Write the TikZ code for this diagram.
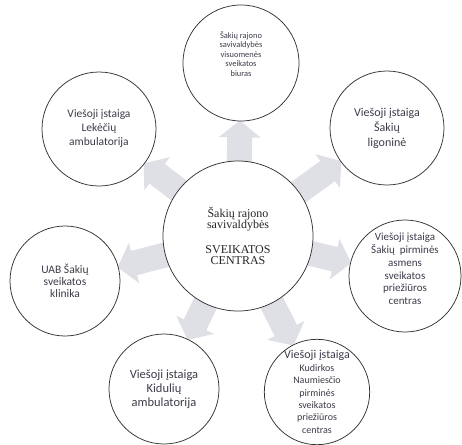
\documentclass[tikz,border=0pt]{standalone}
\usepackage{fontspec}
\setmainfont{Carlito}
\newfontfamily\serifc{Liberation Serif}
\usetikzlibrary{arrows.meta,backgrounds}
\definecolor{arrowgray}{HTML}{DFE0E6}
\definecolor{txtgray}{HTML}{3C3C4A}
\definecolor{linegray}{HTML}{333333}
\tikzset{
  orb/.style={circle, draw=linegray, line width=0.75pt, fill=white, align=center, inner sep=0pt, text=txtgray},
  orbtext/.style={align=center, inner sep=0pt, text=txtgray},
  bigarrow/.style={draw=arrowgray, line width=25pt, shorten <=-6pt, shorten >=-1pt,
    -{Triangle[width=41pt,length=17pt]}},
}
\begin{document}
\begin{tikzpicture}[x=1pt,y=-1pt]
\useasboundingbox (0,0) rectangle (462,444);
\node[orb, minimum size=150pt, text=black!85, font={\serifc\fontsize{12}{11.5}\selectfont}] (c) at (238,236)
  {Šakių rajono\\ savivaldybės\\[13pt] SVEIKATOS\\ CENTRAS};
\node[orb, minimum size=116pt] (t) at (241,63) {};
\node[orbtext, font={\fontsize{8.4}{9.5}\selectfont}] (tt) at (241,54)
  {Šakių rajono\\ savivaldybės\\ visuomenės\\ sveikatos\\ biuras};
\node[orb, minimum size=114pt, font={\fontsize{11.5}{14}\selectfont}] (tl) at (99,129)
  {Viešoji įstaiga\\ Lekėčių\\ ambulatorija};
\node[orb, minimum size=114pt, font={\fontsize{12}{15}\selectfont}] (tr) at (387,128)
  {Viešoji įstaiga\\ Šakių\\ ligoninė};
\node[orb, minimum size=112pt] (r) at (405,276) {};
\node[orbtext, font={\fontsize{11}{12.7}\selectfont}] (rt) at (405,269)
  {Viešoji įstaiga\\ Šakių~~pirminės\\ asmens\\ sveikatos\\ priežiūros\\ centras};
\node[orb, minimum size=104pt, font={\fontsize{10}{12.4}\selectfont}] (br) at (317,392)
  {{\fontsize{12}{12.4}\selectfont Viešoji įstaiga}\\ Kudirkos\\ Naumiesčio\\ pirminės\\ sveikatos\\ priežiūros\\ centras};
\node[orb, minimum size=110pt, font={\fontsize{12.5}{14}\selectfont}] (bl) at (164,389)
  {Viešoji įstaiga\\ Kidulių\\ ambulatorija};
\node[orb, minimum size=110pt, font={\fontsize{11.5}{11.7}\selectfont}] (l) at (65,281)
  {UAB Šakių\\ sveikatos\\ klinika};
\begin{pgfonlayer}{background}
\foreach \n in {t,tl,tr,r,br,bl,l}
  \draw[bigarrow] (c) -- (\n);
\end{pgfonlayer}
\end{tikzpicture}
\end{document}
